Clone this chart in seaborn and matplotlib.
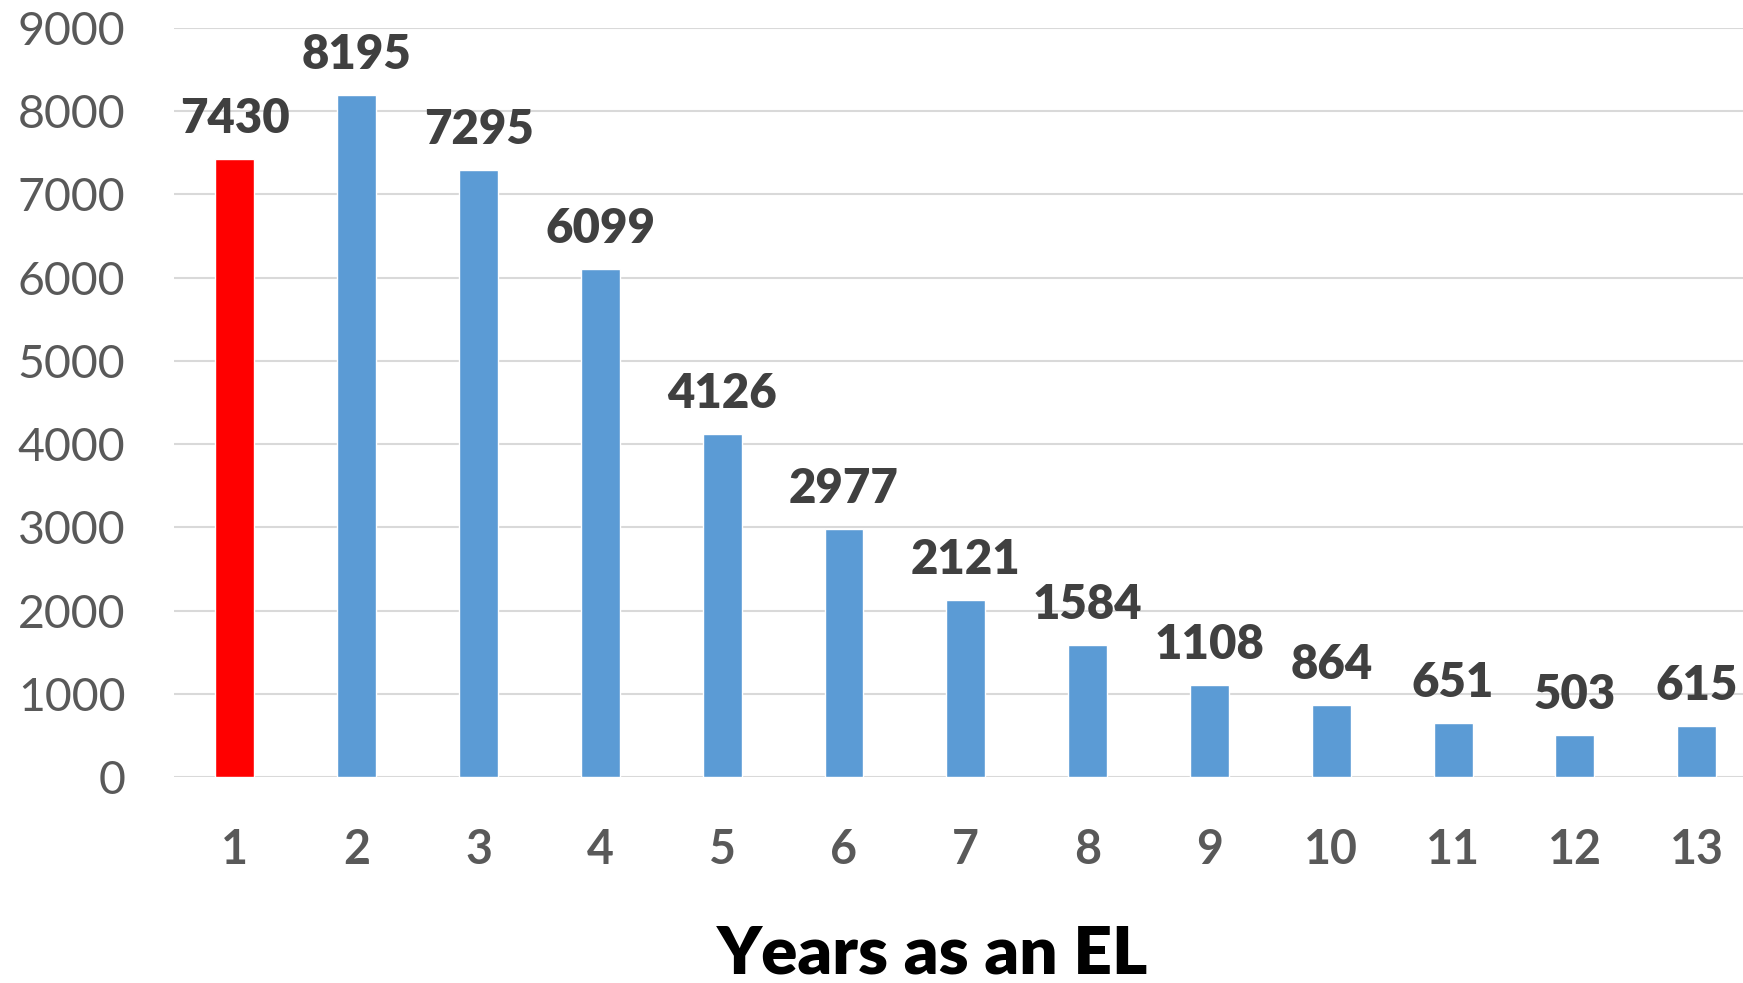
import matplotlib
matplotlib.use("Agg")
import matplotlib.pyplot as plt
import seaborn as sns
import pandas as pd

years = ["1", "2", "3", "4", "5", "6", "7", "8", "9", "10", "11", "12", "13"]
counts = [7430, 8195, 7295, 6099, 4126, 2977, 2121, 1584, 1108, 864, 651, 503, 615]
bar_colors = ["#ff0000"] + ["#5b9bd5"] * 12
y_ticks = [0, 1000, 2000, 3000, 4000, 5000, 6000, 7000, 8000, 9000]

sns.set_theme(style="white")
plt.rcParams["font.family"] = ["Lato", "DejaVu Sans"]

df = pd.DataFrame({"year": years, "count": counts})

fig = plt.figure(figsize=(17.43, 9.83), dpi=100)
ax = fig.add_axes([174 / 1743, 1 - 777 / 983, 1 - 174 / 1743, (777 - 28) / 983])

sns.barplot(data=df, x="year", y="count", hue="year", palette=bar_colors,
            legend=False, width=0.32, ax=ax, saturation=1)

ax.set_ylim(0, 9000)
ax.set_xlim(-0.5, 12.38)
ax.set_yticks(y_ticks)
ax.set_yticklabels([str(t) for t in y_ticks], fontsize=33.5, color="#595959")
ax.tick_params(axis="y", length=0, pad=35)
ax.tick_params(axis="x", length=0, pad=37)
for lbl in ax.get_xticklabels():
    lbl.set_fontsize(33.5)
    lbl.set_fontweight("bold")
    lbl.set_color("#595959")

ax.grid(axis="y", color="#d9d9d9", linewidth=1.5)
ax.set_axisbelow(True)
for side in ["top", "right", "left", "bottom"]:
    ax.spines[side].set_visible(False)

for cont in ax.containers:
    ax.bar_label(cont, fmt="%d", padding=13, fontsize=34, fontweight="heavy",
                 color="#404040")

ax.set_xlabel("")
ax.set_ylabel("")
fig.text(933 / 1743, 1 - 954 / 983, "Years as an EL", ha="center", va="center",
         fontsize=48.5, fontweight="heavy", color="black")

fig.savefig("out.png", dpi=100)
